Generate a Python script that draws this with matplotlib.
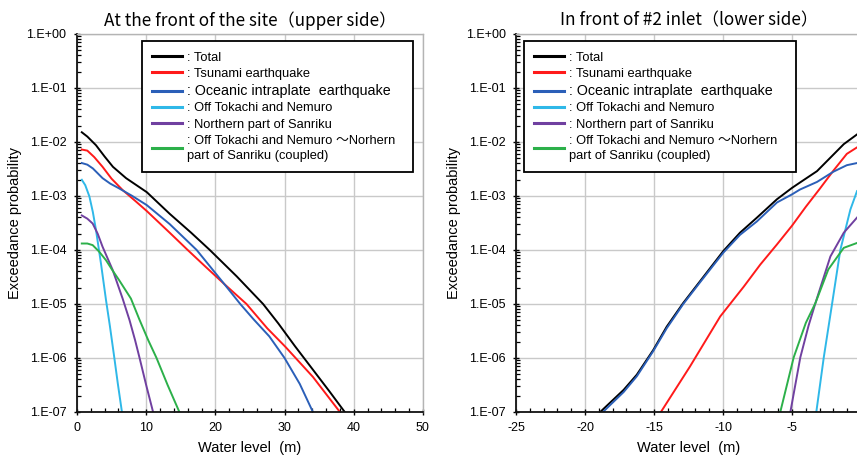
import matplotlib
matplotlib.use("Agg")
import matplotlib.pyplot as plt
import matplotlib.ticker as ticker
import numpy as np

plt.rcParams["font.family"] = ["Liberation Sans"]
plt.rcParams["axes.unicode_minus"] = False
cjk = ["Liberation Sans", "Noto Sans CJK JP", "DejaVu Sans"]

titles = ["At the front of the site（upper side）", "In front of #2 inlet（lower side）"]
legend_labels = [
    ": Total",
    ": Tsunami earthquake",
    ": Oceanic intraplate  earthquake",
    ": Off Tokachi and Nemuro",
    ": Northern part of Sanriku",
    ": Off Tokachi and Nemuro ～Norhern\npart of Sanriku (coupled)",
]
colors = ["#000000", "#ff1a1a", "#2b5fb8", "#2fb8e8", "#7040a0", "#2cb04a"]

# upper side (left chart): water level (m) and log10 of exceedance probability
up_total_x = [0.7, 1.5, 2.75, 4.0, 5.2, 7.1, 10.1, 13.4, 16.5, 19.2, 23.1, 26.9, 29.1, 31.5, 34.0, 36.5, 38.7]
up_total_log = [-1.82, -1.90, -2.06, -2.27, -2.46, -2.67, -2.93, -3.33, -3.68, -4.0, -4.49, -5.0, -5.36, -5.78, -6.2, -6.62, -7.0]
up_tsunami_x = [0.7, 1.5, 2.5, 3.7, 5.0, 6.6, 8.5, 10.1, 13.4, 16.0, 18.5, 21.2, 24.5, 27.5, 30.1, 34.1, 38.0]
up_tsunami_log = [-2.14, -2.16, -2.28, -2.46, -2.68, -2.89, -3.10, -3.28, -3.68, -4.0, -4.3, -4.62, -5.0, -5.45, -5.79, -6.35, -7.0]
up_oceanic_x = [0.7, 1.5, 2.3, 3.0, 3.7, 4.8, 6.1, 8.0, 10.1, 13.4, 17.3, 21.1, 23.6, 25.5, 27.8, 30.0, 32.2, 34.1]
up_oceanic_log = [-2.39, -2.42, -2.49, -2.58, -2.67, -2.77, -2.86, -3.0, -3.17, -3.52, -4.0, -4.6, -5.0, -5.28, -5.6, -6.0, -6.48, -7.0]
up_tokachi_x = [0.7, 1.2, 1.8, 2.3, 2.75, 3.47, 4.2, 4.75, 5.35, 5.9, 6.5]
up_tokachi_log = [-2.70, -2.80, -3.01, -3.30, -3.63, -4.25, -4.93, -5.4, -5.95, -6.47, -7.0]
up_sanriku_x = [0.7, 1.5, 2.27, 3.0, 3.7, 5.16, 6.6, 7.6, 8.4, 9.05, 10.0, 11.0]
up_sanriku_log = [-3.36, -3.42, -3.51, -3.70, -3.94, -4.37, -4.9, -5.3, -5.67, -6.0, -6.5, -7.0]
up_coupled_x = [0.7, 1.5, 2.27, 3.2, 4.2, 5.1, 6.1, 7.8, 9.0, 10.3, 11.5, 13.1, 14.8]
up_coupled_log = [-3.88, -3.88, -3.91, -4.03, -4.19, -4.37, -4.56, -4.9, -5.28, -5.67, -6.0, -6.5, -7.0]

# lower side (right chart)
low_total_x = [-18.9, -17.2, -16.25, -15.05, -14.08, -12.88, -11.67, -9.98, -8.77, -7.54, -6.09, -5.0, -4.42, -3.19, -2.22, -1.25, -0.29]
low_total_log = [-7.0, -6.59, -6.31, -5.85, -5.42, -4.98, -4.58, -4.02, -3.68, -3.40, -3.06, -2.85, -2.75, -2.54, -2.29, -2.04, -1.86]
low_tsunami_x = [-14.5, -12.4, -10.2, -8.5, -7.3, -6.1, -5.0, -4.0, -3.0, -2.0, -1.03, -0.29]
low_tsunami_log = [-7.0, -6.16, -5.23, -4.68, -4.27, -3.9, -3.55, -3.2, -2.87, -2.53, -2.22, -2.10]
low_oceanic_x = [-18.7, -17.2, -16.25, -15.05, -14.08, -12.88, -11.67, -9.98, -8.77, -7.54, -6.09, -5.0, -4.42, -3.19, -2.0, -1.03, -0.29]
low_oceanic_log = [-7.0, -6.63, -6.34, -5.87, -5.45, -5.0, -4.6, -4.05, -3.72, -3.47, -3.12, -2.97, -2.88, -2.74, -2.55, -2.43, -2.39]
low_tokachi_x = [-3.24, -2.7, -2.1, -1.5, -0.77, -0.29]
low_tokachi_log = [-7.0, -5.99, -5.0, -4.0, -3.25, -2.91]
low_sanriku_x = [-5.12, -4.4, -3.8, -3.3, -2.22, -1.25, -0.29]
low_sanriku_log = [-7.0, -5.99, -5.4, -4.98, -4.12, -3.68, -3.40]
low_coupled_x = [-5.85, -4.88, -4.0, -3.3, -2.37, -1.25, -0.29]
low_coupled_log = [-7.0, -5.99, -5.35, -4.98, -4.36, -3.96, -3.87]

upper = [
    (up_total_x, up_total_log), (up_tsunami_x, up_tsunami_log), (up_oceanic_x, up_oceanic_log),
    (up_tokachi_x, up_tokachi_log), (up_sanriku_x, up_sanriku_log), (up_coupled_x, up_coupled_log),
]
lower = [
    (low_total_x, low_total_log), (low_tsunami_x, low_tsunami_log), (low_oceanic_x, low_oceanic_log),
    (low_tokachi_x, low_tokachi_log), (low_sanriku_x, low_sanriku_log), (low_coupled_x, low_coupled_log),
]

# tick positions, kept inside the plotted range
y_major = [1e-7, 1e-6, 1e-5, 1e-4, 1e-3, 1e-2, 1e-1, 1.0]
y_minor = [m * d for d in y_major[:-1] for m in range(2, 10)]


def exp_label(v, pos):
    e = int(round(np.log10(v)))
    if e == 0:
        return "1.E+00"
    return "1.E-%02d" % (-e)


fig = plt.figure(figsize=(8.57, 4.61), dpi=100)
ax1 = fig.add_axes([0.0898, 0.1063, 0.4037, 0.820])
ax2 = fig.add_axes([0.6021, 0.1063, 0.4026, 0.820])

# the right panel runs on past the edge of the picture, so its "0" label is not shown
panels = [
    (ax1, upper, titles[0], (0, 50), [0, 10, 20, 30, 40, 50], list(range(0, 51, 2)), (0.188, 0.63, 0.783, 0.351)),
    (ax2, lower, titles[1], (-25, 0), [-25, -20, -15, -10, -5], list(range(-25, 1)), (0.023, 0.63, 0.789, 0.351)),
]

for ax, series, title, xlim, xticks, xminor, legbox in panels:
    for (xs, ls), c, lab in zip(series, colors, legend_labels):
        ax.plot(xs, np.power(10.0, ls), color=c, lw=1.4, label=lab)

    ax.set_yscale("log")
    ax.set_ylim(1e-7, 1)
    ax.set_xlim(*xlim)
    ax.xaxis.set_major_locator(ticker.FixedLocator(xticks))
    ax.xaxis.set_minor_locator(ticker.FixedLocator(xminor))
    ax.xaxis.set_minor_formatter(ticker.NullFormatter())
    ax.yaxis.set_major_locator(ticker.FixedLocator(y_major))
    ax.yaxis.set_minor_locator(ticker.FixedLocator(y_minor))
    ax.yaxis.set_major_formatter(ticker.FuncFormatter(exp_label))
    ax.yaxis.set_minor_formatter(ticker.NullFormatter())

    ax.grid(True, which="major", color="#c9c9c9", lw=1.0)
    ax.set_axisbelow(True)
    for s in ["top", "right"]:
        ax.spines[s].set_color("#b4b4b4")
        ax.spines[s].set_linewidth(1.0)
    for s in ["left", "bottom"]:
        ax.spines[s].set_color("#111111")
        ax.spines[s].set_linewidth(1.3)

    ax.tick_params(which="major", direction="inout", length=5, width=1.0, labelsize=9, pad=5)
    ax.tick_params(which="minor", direction="in", length=3, width=0.9)
    ax.tick_params(top=False, right=False, which="both")

    ax.set_title(title, family=["Noto Sans CJK JP", "DejaVu Sans"], fontsize=12.3, pad=6)
    ax.set_xlabel("Water level  (m)", fontsize=10.5, labelpad=5)
    ax.set_ylabel("Exceedance probability", fontsize=10.5, labelpad=3)

    leg = ax.legend(loc="upper left", bbox_to_anchor=legbox, mode="expand", borderaxespad=0,
                    fancybox=False, framealpha=1, edgecolor="black", prop={"family": cjk, "size": 9.3},
                    handlelength=2.3, handletextpad=0.4, labelspacing=0.33, borderpad=0.8)
    leg.get_frame().set_linewidth(1.3)
    for line in leg.get_lines():
        line.set_linewidth(2.2)
    texts = leg.get_texts()
    texts[2].set_fontsize(10.3)
    texts[5].set_linespacing(1.3)

fig.savefig("out.png", dpi=100)
